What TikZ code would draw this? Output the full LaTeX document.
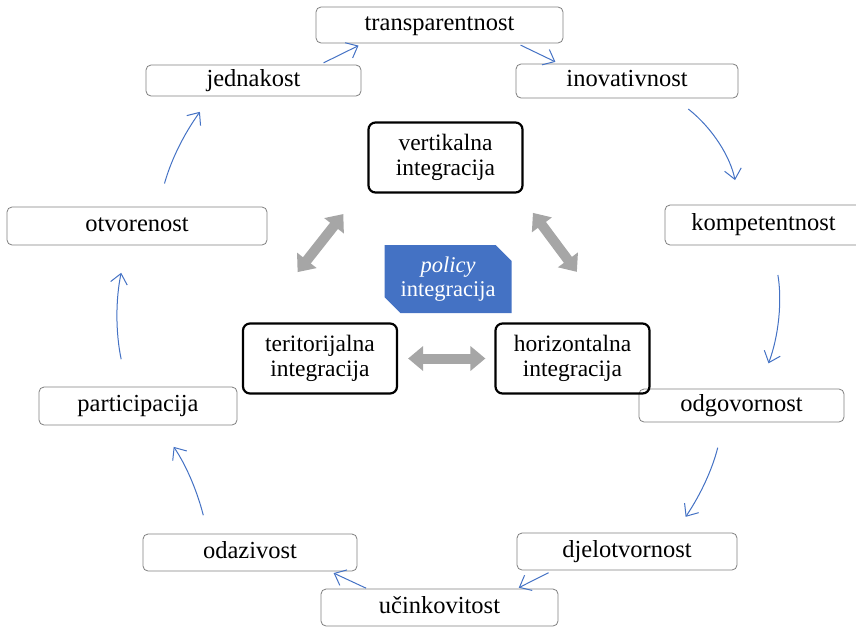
\documentclass[tikz,border=0pt]{standalone}
\usepackage{fontspec}
\setmainfont{Liberation Serif}
\usepackage{tikz}
\usetikzlibrary{arrows.meta, shapes.misc}
\definecolor{officeblue}{HTML}{4472C4}
\definecolor{arrowgray}{HTML}{A6A6A6}
\definecolor{boxgray}{HTML}{7F7F7F}
\tikzstyle{vrijednost} = [draw=boxgray, line width=0.8pt, rectangle, rounded corners=5pt, inner sep=0pt, text height=16pt, text depth=5pt, font=\fontsize{24.5}{22}\selectfont]
\tikzstyle{integracija} = [draw=black, line width=2.2pt, rectangle, rounded corners=7pt, minimum width=154pt, minimum height=70pt, align=center, inner sep=0pt, font=\fontsize{23.5}{25}\selectfont]
\tikzstyle{politika} = [fill=officeblue, text=white, chamfered rectangle, chamfered rectangle corners={north east, south west}, chamfered rectangle xsep=8pt, chamfered rectangle ysep=8pt, minimum width=127pt, minimum height=68pt, align=center, inner sep=0pt, font=\fontsize{22.5}{24}\selectfont]
\tikzstyle{tok} = [draw=officeblue, line width=1pt, -{Straight Barb[length=10pt, width=17pt]}]
\tikzstyle{veza} = [draw=arrowgray, line width=10pt, {Triangle[length=15pt, width=24pt]}-{Triangle[length=15pt, width=24pt]}]

\begin{document}
\begin{tikzpicture}[x=1pt, y=1pt]
	\useasboundingbox (0,0) rectangle (856,-627);
	\clip (0,0) rectangle (856,-627);
	\node[vrijednost, minimum width=247pt, minimum height=36pt] (transparentnost) at (439.5,-25) {transparentnost};
	\node[vrijednost, minimum width=215pt, minimum height=31pt] (jednakost) at (253.5,-80.5) {jednakost};
	\node[vrijednost, minimum width=222pt, minimum height=34pt] (inovativnost) at (627,-81) {inovativnost};
	\node[vrijednost, minimum width=260pt, minimum height=38pt] (otvorenost) at (137,-226) {otvorenost};
	\node[vrijednost, minimum width=197pt, minimum height=40pt] (kompetentnost) at (763.5,-225) {kompetentnost};
	\node[vrijednost, minimum width=198pt, minimum height=38pt] (participacija) at (138,-406) {participacija};
	\node[vrijednost, minimum width=205pt, minimum height=33pt] (odgovornost) at (741.5,-405.5) {odgovornost};
	\node[vrijednost, minimum width=214pt, minimum height=37pt] (odazivost) at (250,-552.5) {odazivost};
	\node[vrijednost, minimum width=220pt, minimum height=37pt] (djelotvornost) at (627,-551.5) {djelotvornost};
	\node[vrijednost, minimum width=237pt, minimum height=37pt] (ucinkovitost) at (439.5,-607.5) {učinkovitost};

	\node[integracija] (vertikalna) at (445.5,-157.5) {vertikalna\\integracija};
	\node[integracija] (teritorijalna) at (320,-358.5) {teritorijalna\\integracija};
	\node[integracija] (horizontalna) at (572.5,-358.5) {horizontalna\\integracija};
	\node[politika] (policy) at (448,-279) {\textit{policy}\\integracija};

	\draw[veza, shorten <=64pt, shorten >=26pt] ([xshift=-62pt]teritorijalna.north) -- ([xshift=-8pt]vertikalna.south west);
	\draw[veza, shorten <=24pt, shorten >=63pt] ([xshift=-5pt]vertikalna.south east) -- ([xshift=42pt]horizontalna.north);
	\draw[veza, shorten <=10pt, shorten >=9pt] (teritorijalna.east) -- (horizontalna.west);

	\draw[tok, shorten <=4pt, shorten >=5pt] ([xshift=66.5pt]jednakost.north) -- ([xshift=-76.5pt]transparentnost.south);
	\draw[tok, shorten <=4pt, shorten >=4pt] ([xshift=77.5pt]transparentnost.south) -- ([xshift=-68pt]inovativnost.north);
	\draw[tok, shorten <=17pt, shorten >=25pt] ([xshift=48pt]inovativnost.south) to[bend left=20] ([xshift=-23.5pt]kompetentnost.north);
	\draw[tok, shorten <=30pt, shorten >=27pt] ([xshift=9.5pt]kompetentnost.south) to[bend left=15] ([xshift=17.5pt]odgovornost.north);
	\draw[tok, shorten <=26pt, shorten >=19pt] ([xshift=-17.5pt]odgovornost.south) to[bend left=10] ([xshift=48pt]djelotvornost.north);
	\draw[tok, shorten <=5pt, shorten >=2pt] ([xshift=-74pt]djelotvornost.south) -- ([xshift=77.5pt]ucinkovitost.north);
	\draw[tok, shorten <=1pt, shorten >=4pt] ([xshift=-72.5pt]ucinkovitost.north) -- ([xshift=80pt]odazivost.south);
	\draw[tok, shorten <=19pt, shorten >=26pt] ([xshift=-42pt]odazivost.north) to[bend right=10] ([xshift=21pt]participacija.south);
	\draw[tok, shorten <=28pt, shorten >=28pt] ([xshift=-11pt]participacija.north) to[bend left=12] ([xshift=-10pt]otvorenost.south);
	\draw[tok, shorten <=24pt, shorten >=19pt] ([xshift=21pt]otvorenost.north) to[bend left=10] ([xshift=-42.5pt]jednakost.south);
\end{tikzpicture}
\end{document}
